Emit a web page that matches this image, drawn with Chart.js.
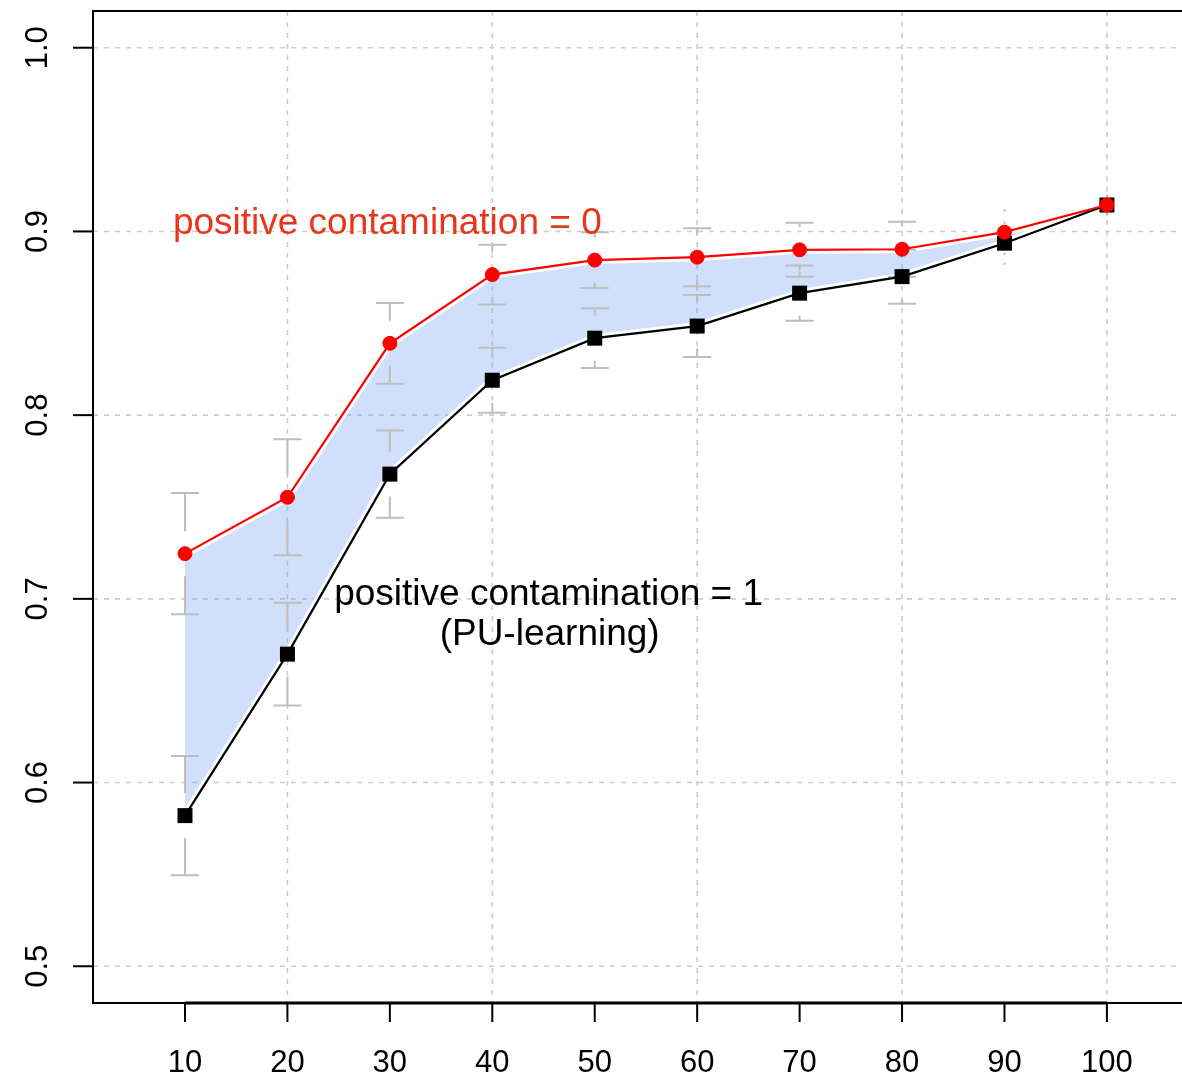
<!DOCTYPE html>
<html>
<head>
<meta charset="utf-8">
<title>Positive contamination</title>
<script src="https://cdn.jsdelivr.net/npm/chart.js@4/dist/chart.umd.min.js"></script>
<style>
  html, body { margin: 0; padding: 0; background: #ffffff; overflow: hidden; }
  canvas { display: block; }
</style>
</head>
<body>
<canvas id="chart" width="1182" height="1077"></canvas>
<script>
// Number of labelled examples on the x axis
const xValues = [10, 20, 30, 40, 50, 60, 70, 80, 90, 100];

// Mean score, positive contamination = 0 (red) and = 1 / PU-learning (black)
const redMean   = [0.7246, 0.7553, 0.8391, 0.8765, 0.8844, 0.8860, 0.8900, 0.8903, 0.8996, 0.9144];
const blackMean = [0.5820, 0.6699, 0.7679, 0.8190, 0.8419, 0.8485, 0.8664, 0.8754, 0.8936, 0.9144];

// Half-width of the confidence intervals
const redErr   = [0.0330, 0.0316, 0.0220, 0.0163, 0.0152, 0.0158, 0.0147, 0.0150, 0.0118, 0.0050];
const blackErr = [0.0324, 0.0280, 0.0237, 0.0177, 0.0163, 0.0169, 0.0150, 0.0147, 0.0112, 0.0050];

// Axis ticks and grid
const xTickValues = [10, 20, 30, 40, 50, 60, 70, 80, 90, 100];
const xTickLabels = ['10', '20', '30', '40', '50', '60', '70', '80', '90', '100'];
const xGridValues = [20, 40, 60, 80, 100];
const yTickValues = [0.5, 0.6, 0.7, 0.8, 0.9, 1.0];
const yTickLabels = ['0.5', '0.6', '0.7', '0.8', '0.9', '1.0'];

const FONT = '"Liberation Sans", Arial, Helvetica, sans-serif';
const toPoints = (ys) => xValues.map((x, i) => ({ x: x, y: ys[i] }));

// Grid behind everything, box / ticks / labels / notes on top
const decor = {
  id: 'decor',
  beforeDraw(chart) {
    const { ctx, chartArea: a, scales: { x, y } } = chart;
    ctx.save();
    ctx.strokeStyle = '#cdcdcd';
    ctx.lineWidth = 1.6;
    ctx.setLineDash([5, 6]);
    yTickValues.forEach(v => {
      const py = y.getPixelForValue(v);
      ctx.beginPath(); ctx.moveTo(a.left, py); ctx.lineTo(a.right, py); ctx.stroke();
    });
    xGridValues.forEach(v => {
      const px = x.getPixelForValue(v);
      ctx.beginPath(); ctx.moveTo(px, a.top); ctx.lineTo(px, a.bottom); ctx.stroke();
    });
    ctx.restore();
  },
  afterDatasetDraw(chart, args) {
    if (chart.data.datasets[args.index].label !== 'band-low') return;
    const { ctx, scales: { x, y } } = chart;
    const gap = 22.5, cap = 14;
    ctx.save();
    ctx.strokeStyle = '#bebebe';
    ctx.fillStyle = '#bebebe';
    ctx.lineWidth = 2;
    const bars = (means, errs) => {
      means.forEach((m, i) => {
        const px = x.getPixelForValue(xValues[i]);
        const pc = y.getPixelForValue(m);
        const ends = [y.getPixelForValue(m + errs[i]), y.getPixelForValue(m - errs[i])];
        ends.forEach((pe, k) => {
          const dist = Math.abs(pc - pe);
          if (dist > gap) {
            const inner = k === 0 ? pc - gap : pc + gap;
            ctx.beginPath();
            ctx.moveTo(px, pe); ctx.lineTo(px, inner);
            ctx.moveTo(px - cap, pe); ctx.lineTo(px + cap, pe);
            ctx.stroke();
          } else {
            ctx.beginPath(); ctx.arc(px, pe, 1.2, 0, Math.PI * 2); ctx.fill();
          }
        });
      });
    };
    bars(redMean, redErr);
    bars(blackMean, blackErr);
    ctx.restore();
  },
  afterDraw(chart) {
    const { ctx, chartArea: a, scales: { x, y } } = chart;
    ctx.save();
    ctx.strokeStyle = '#000';
    ctx.setLineDash([]);
    // plot box (left, top, bottom)
    ctx.lineWidth = 2;
    ctx.beginPath();
    ctx.moveTo(a.right + 2, a.top); ctx.lineTo(a.left, a.top);
    ctx.lineTo(a.left, a.bottom); ctx.lineTo(a.right + 2, a.bottom);
    ctx.stroke();
    // axis line between the outer ticks
    ctx.lineWidth = 3;
    ctx.beginPath();
    ctx.moveTo(x.getPixelForValue(xTickValues[0]), a.bottom);
    ctx.lineTo(x.getPixelForValue(xTickValues[xTickValues.length - 1]), a.bottom);
    ctx.stroke();
    // tick marks
    ctx.lineWidth = 2;
    xTickValues.forEach(v => {
      const px = x.getPixelForValue(v);
      ctx.beginPath(); ctx.moveTo(px, a.bottom); ctx.lineTo(px, a.bottom + 19); ctx.stroke();
    });
    yTickValues.forEach(v => {
      const py = y.getPixelForValue(v);
      ctx.beginPath(); ctx.moveTo(a.left, py); ctx.lineTo(a.left - 20, py); ctx.stroke();
    });
    // tick labels
    ctx.fillStyle = '#000';
    ctx.font = '31px ' + FONT;
    ctx.textAlign = 'center';
    ctx.textBaseline = 'alphabetic';
    xTickValues.forEach((v, i) => {
      ctx.fillText(xTickLabels[i], x.getPixelForValue(v), a.bottom + 69);
    });
    yTickValues.forEach((v, i) => {
      ctx.save();
      ctx.translate(a.left - 46, y.getPixelForValue(v));
      ctx.rotate(-Math.PI / 2);
      ctx.fillText(yTickLabels[i], 0, 0);
      ctx.restore();
    });
    // series notes
    ctx.font = '37px ' + FONT;
    ctx.fillStyle = '#e8361a';
    ctx.fillText('positive contamination = 0', x.getPixelForValue(29.75), y.getPixelForValue(0.905) + 12);
    ctx.fillStyle = '#000';
    ctx.fillText('positive contamination = 1', x.getPixelForValue(45.5), y.getPixelForValue(0.7037) + 13);
    ctx.fillText('(PU-learning)', x.getPixelForValue(45.6), y.getPixelForValue(0.6820) + 13);
    ctx.restore();
  }
};

new Chart(document.getElementById('chart'), {
  type: 'line',
  data: {
    datasets: [
      {
        label: 'band-high',
        data: toPoints(redMean),
        borderColor: '#ffffff',
        borderWidth: 8,
        pointRadius: 0,
        fill: '+1',
        backgroundColor: 'rgba(100,149,237,0.3)',
        tension: 0,
        order: 5
      },
      {
        label: 'band-low',
        data: toPoints(blackMean),
        borderColor: '#ffffff',
        borderWidth: 8,
        pointRadius: 0,
        fill: false,
        tension: 0,
        order: 4
      },
      {
        label: 'positive contamination = 1',
        data: toPoints(blackMean),
        borderColor: '#000000',
        borderWidth: 2.2,
        pointStyle: 'rect',
        pointRadius: 10.6,
        pointBackgroundColor: '#000000',
        pointBorderColor: '#000000',
        pointBorderWidth: 0,
        fill: false,
        tension: 0,
        order: 2
      },
      {
        label: 'positive contamination = 0',
        data: toPoints(redMean),
        borderColor: '#ff0000',
        borderWidth: 2.2,
        pointStyle: 'circle',
        pointRadius: 7,
        pointBackgroundColor: '#ff0000',
        pointBorderColor: '#ff0000',
        pointBorderWidth: 1,
        fill: false,
        tension: 0,
        order: 1
      }
    ]
  },
  options: {
    responsive: false,
    animation: false,
    devicePixelRatio: 1,
    layout: { autoPadding: false, padding: { left: 93, top: 11, right: 0, bottom: 74 } },
    scales: {
      x: { type: 'linear', display: false, min: 1.02, max: 107.33 },
      y: { type: 'linear', display: false, min: 0.48, max: 1.02 }
    },
    plugins: {
      legend: { display: false },
      tooltip: { enabled: false },
      filler: { drawTime: 'beforeDatasetsDraw' }
    }
  },
  plugins: [decor]
});
</script>
</body>
</html>
